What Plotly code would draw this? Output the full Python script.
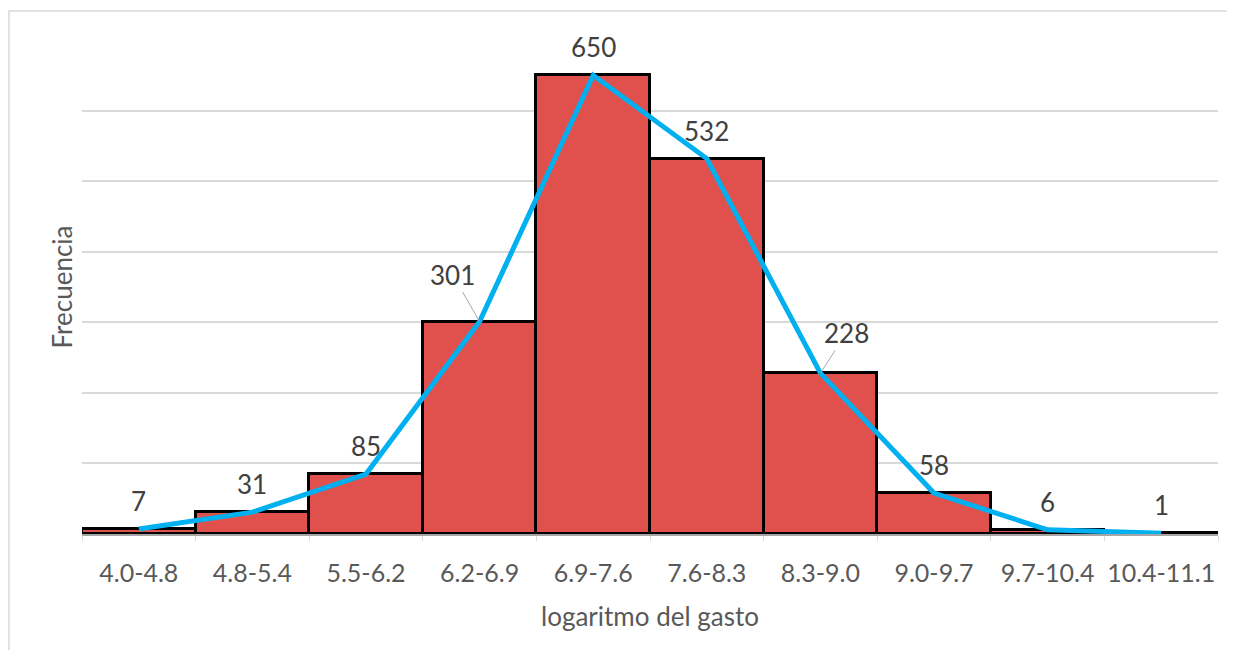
import plotly.graph_objects as go

# datos del histograma
intervalos = ['4.0-4.8', '4.8-5.4', '5.5-6.2', '6.2-6.9', '6.9-7.6',
              '7.6-8.3', '8.3-9.0', '9.0-9.7', '9.7-10.4', '10.4-11.1']
frecuencias = [7, 31, 85, 301, 650, 532, 228, 58, 6, 1]

fuente = 'Lato'

fig = go.Figure()

# barras del histograma
fig.add_trace(go.Bar(x=intervalos, y=frecuencias,
                     marker=dict(color='#E0504D', line=dict(color='black', width=3)),
                     hoverinfo='x+y'))

# poligono de frecuencias
fig.add_trace(go.Scatter(x=intervalos, y=frecuencias, mode='lines',
                         line=dict(color='#00B0F0', width=5)))

# etiquetas de datos
for cat, val in zip(intervalos, frecuencias):
    if val == 301:
        fig.add_annotation(x=cat, y=val, text=str(val), showarrow=True, arrowhead=0,
                           arrowcolor='#A6A6A6', arrowwidth=1, ax=-27, ay=-47, standoff=0)
    elif val == 228:
        fig.add_annotation(x=cat, y=val, text=str(val), showarrow=True, arrowhead=0,
                           arrowcolor='#A6A6A6', arrowwidth=1, ax=26, ay=-40, standoff=0)
    else:
        fig.add_annotation(x=cat, y=val, text=str(val), showarrow=False, yshift=28)

fig.update_annotations(font=dict(family=fuente, size=26, color='#404040'))

# marco exterior
fig.add_shape(type='rect', xref='paper', yref='paper', x0=-0.0643, x1=1.2, y0=-0.5, y1=1.0587,
              line=dict(color='#D9D9D9', width=1.5), fillcolor='rgba(0,0,0,0)', layer='below')

fig.update_layout(
    width=1219, height=642,
    margin=dict(l=74, r=9, t=32, b=116, autoexpand=False),
    plot_bgcolor='white', paper_bgcolor='white',
    showlegend=False, bargap=0,
    font=dict(family=fuente, color='#595959'),
    xaxis=dict(title=dict(text='logaritmo del gasto', font=dict(size=26, color='#595959'), standoff=22),
               tickfont=dict(size=25, color='#595959'), tickangle=0, automargin=False,
               showline=True, linecolor='#A6A6A6', linewidth=1.5,
               ticks='outside', tickson='boundaries', ticklen=5, tickcolor='#D9D9D9',
               ticklabelstandoff=16, showgrid=False),
    yaxis=dict(title=dict(text='Frecuencia', font=dict(size=26, color='#595959'), standoff=0),
               range=[0, 700], dtick=100, showticklabels=False, automargin=False,
               gridcolor='#D9D9D9', gridwidth=1.5, zeroline=False),
)

fig.write_html("out.html")
